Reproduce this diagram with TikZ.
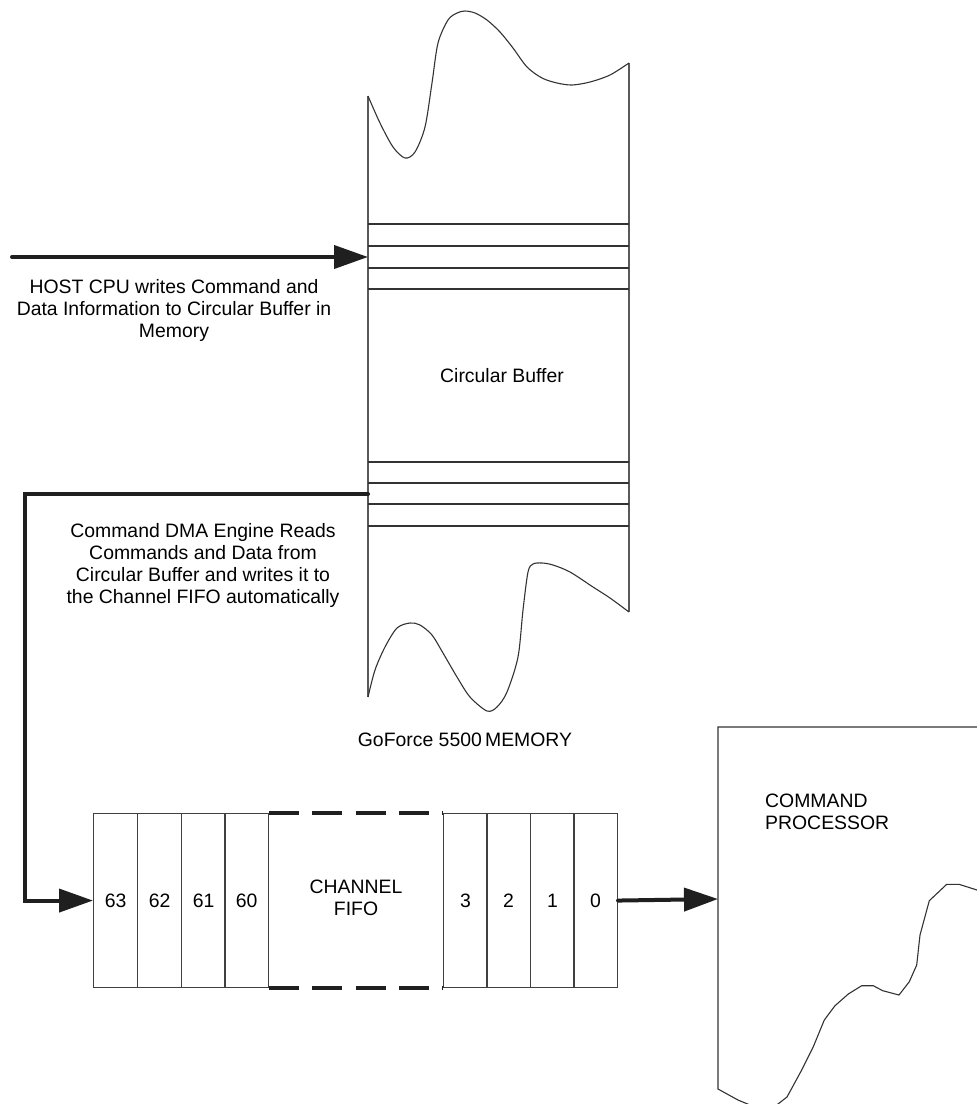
\documentclass[tikz,border=0pt]{standalone}
\usepackage{fontspec}
\setmainfont{Liberation Sans}
\usetikzlibrary{arrows.meta}
\begin{document}
\begin{tikzpicture}[x=1pt,y=-1pt,
  thinline/.style={line width=1.1pt, draw=black!80},
  wall/.style={line width=1.3pt, draw=black!65},
  thickarrow/.style={line width=4pt, draw=black!88, -{Triangle[length=34pt,width=23pt]}},
  lbl/.style={font=\fontsize{19.4}{22}\selectfont, align=center, inner sep=0pt},
  cell/.style={draw=black!75, line width=1.1pt, minimum width=44pt, minimum height=174pt,
    inner sep=0pt, anchor=north west, font=\fontsize{19.4}{22}\selectfont},
  fifodash/.style={line width=4pt, draw=black!88, dash pattern=on 30pt off 13.3pt}]
\useasboundingbox (0,0) rectangle (977,1104);
\clip (0,0) rectangle (977,1104);

% ---------- memory column ----------
\draw[wall] (368,96) -- (368,697);
\draw[wall] (629,63) -- (629,612);
\draw[thinline] plot[smooth, tension=0.5] coordinates {
 (368,96) (380,123) (393,147) (405,158) (415,152) (425,127) (432,83) (438,43)
 (448,20) (457,13) (465,11) (475,13) (487,20) (500,32) (513,48) (527,67)
 (542,78) (557,83) (572,85) (590,82) (610,75) (629,63)};
\draw[thinline] plot[smooth, tension=0.5] coordinates {
 (368,697) (375,670) (385,647) (397,628) (410,623) (420,625) (432,635) (443,653)
 (457,677) (470,697) (487,711) (497,707) (507,692) (518,657) (523,610) (528,572)
 (533,564) (542,563) (553,565) (570,572) (593,587) (610,598) (629,612)};
\foreach \yy in {224,246,268,289,462,483,504,526}
  \draw[thinline] (368,\yy) -- (629,\yy);

\node[lbl] (cb) at (502,376) {Circular Buffer};
\node[lbl] (mem) at (465,740) {GoForce 5500\,MEMORY};

% ---------- host arrow ----------
\coordinate (hostsrc) at (12,257);
\coordinate (bufin) at (368,257);
\draw[thickarrow, line cap=round] (hostsrc) -- (bufin);
\node[lbl] (host) at (174,310) {HOST CPU writes Command and\\Data Information to Circular Buffer in\\Memory};

% ---------- FIFO ----------
\node[cell] (c63) at (93,813) {63};
\node[cell] (c62) at (137,813) {62};
\node[cell] (c61) at (181,813) {61};
\node[cell] (c60) at (224,813) {60};
\node[cell] (c3) at (443,813) {3};
\node[cell] (c2) at (486,813) {2};
\node[cell] (c1) at (530,813) {1};
\node[cell] (c0) at (573,813) {0};
\draw[fifodash] (c60.north east) -- (c3.north west);
\draw[fifodash] (c60.south east) -- (c3.south west);
\node[lbl] (fifo) at (356,898) {CHANNEL\\FIFO};

% ---------- DMA path ----------
\coordinate (bufout) at (368,494);
\draw[thickarrow, line cap=round] (bufout) -- (25,494) |- (c63.west);
\node[lbl, text depth=0pt] (dma) at (203,563)
  {\fontsize{19.4}{23.3}\selectfont Command DMA Engine Reads\\Commands and Data from\\Circular Buffer and writes it to\\the Channel FIFO automatically};

% ---------- command processor ----------
\draw[thinline] (977,727) -- (718,727) -- (718,1089) -- (738,1100) -- (750,1105)
  -- (764,1112) -- (778,1104) -- (787,1097) -- (801.7,1070) -- (813.3,1046.7)
  -- (824.3,1020) -- (835,1005.7) -- (848.3,994) -- (861.7,985.7) -- (873.3,985.7)
  -- (882.7,990.7) -- (899,995) -- (909.3,981.7) -- (916.7,965) -- (920,935)
  -- (929.3,900.7) -- (946.7,884.3) -- (959,884.3) -- (977,890);
\coordinate (cpin) at (718,899);
\draw[thickarrow, line cap=round] (c0.east) -- (cpin);
\node[lbl, align=left, anchor=west] (cp) at (765,812) {COMMAND\\PROCESSOR};
\end{tikzpicture}
\end{document}
